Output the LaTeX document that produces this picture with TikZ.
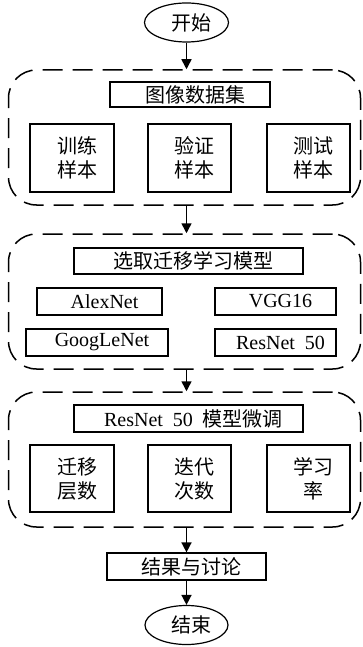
\documentclass[tikz,border=0pt]{standalone}
\usepackage{fontspec}
\setmainfont{Liberation Serif}
\newfontfamily\cjk{Noto Sans CJK SC}
\usetikzlibrary{shapes.geometric,arrows.meta}
\newcommand{\shr}{\hspace*{10pt}}
\begin{document}
\begin{tikzpicture}[x=1pt,y=-1pt,
  every node/.style={font=\fontsize{20pt}{24pt}\selectfont, inner sep=0pt},
  box/.style={draw, line width=1.2pt, align=center},
  term/.style={draw, ellipse, line width=1.2pt},
  group/.style={draw, line width=1.5pt, dash pattern=on 20pt off 10pt, rounded corners=28pt},
  arr/.style={line width=1.5pt, -{Triangle[length=10pt,width=10pt]}}
]
\useasboundingbox (0,0) rectangle (362,647);
\node[term, minimum width=84pt, minimum height=39pt] (start) at (186.5,22.5) {\shr\cjk 开始};

\node[group, minimum width=352pt, minimum height=135pt] (g1) at (184.5,137.5) {};
\node[box, minimum width=160pt, minimum height=25pt] (t1) at (190,94.5) {\shr\cjk 图像数据集};
\node[box, minimum width=84pt, minimum height=68pt] (s1) at (72,158) {\shr\cjk 训练\\\shr\cjk 样本};
\node[box, minimum width=83pt, minimum height=68pt] (s2) at (189.5,158) {\shr\cjk 验证\\\shr\cjk 样本};
\node[box, minimum width=83pt, minimum height=68pt] (s3) at (308.5,158) {\shr\cjk 测试\\\shr\cjk 样本};

\node[group, minimum width=352pt, minimum height=135pt] (g2) at (184.5,301.5) {};
\node[box, minimum width=229pt, minimum height=26pt] (t2) at (188.5,261) {\shr\cjk 选取迁移学习模型};
\node[box, minimum width=125pt, minimum height=27pt] (m1) at (99.5,301.5) {\shr AlexNet};
\node[box, minimum width=121pt, minimum height=27pt] (m2) at (275.5,301.5) {\shr VGG16};
\node[box, minimum width=142pt, minimum height=27pt] (m3) at (97,342.5) {\shr GoogLeNet};
\node[box, minimum width=121pt, minimum height=27pt] (m4) at (275.5,342.5) {\shr ResNet\ \ 50};

\node[group, minimum width=352pt, minimum height=135pt] (g3) at (184.5,459.5) {};
\node[box, minimum width=229pt, minimum height=27pt] (t3) at (188.5,418.5) {\shr ResNet\ \ 50\ \ {\cjk 模型微调}};
\node[box, minimum width=84pt, minimum height=67pt] (p1) at (72,478.5) {\shr\cjk 迁移\\\shr\cjk 层数};
\node[box, minimum width=83pt, minimum height=67pt] (p2) at (189.5,478.5) {\shr\cjk 迭代\\\shr\cjk 次数};
\node[box, minimum width=83pt, minimum height=67pt] (p3) at (308.5,478.5) {\shr\cjk 学习\\\shr\cjk 率};

\node[box, minimum width=159pt, minimum height=27pt] (res) at (186.5,566.5) {\shr\cjk 结果与讨论};
\node[term, minimum width=83pt, minimum height=39pt] (end) at (186.5,625) {\shr\cjk 结束};

\draw[arr] (start.south) -- (start.south |- g1.north);
\draw[arr] (start.south |- g1.south) -- (start.south |- g2.north);
\draw[arr] (start.south |- g2.south) -- (start.south |- g3.north);
\draw[arr] (start.south |- g3.south) -- (res.north);
\draw[arr] (res.south) -- (end.north);
\end{tikzpicture}
\end{document}
